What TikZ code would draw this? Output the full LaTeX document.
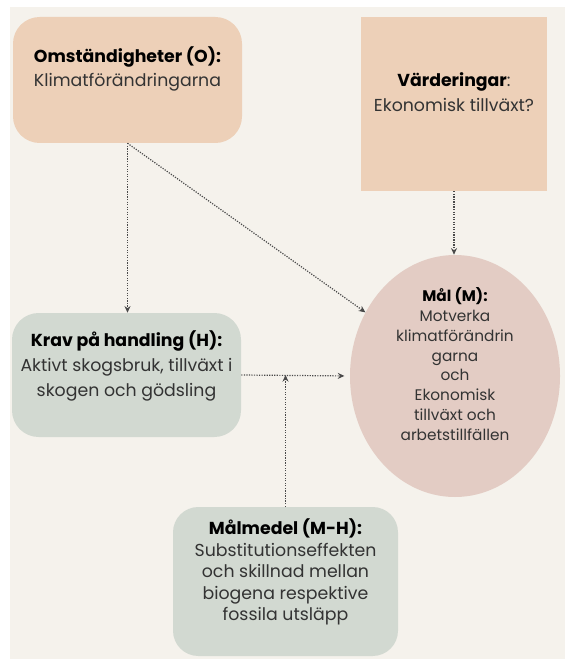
\documentclass[tikz,border=0pt]{standalone}
\usepackage{fontspec}
\setmainfont{Poppins}
\usepackage{xcolor}
\usetikzlibrary{shapes, arrows.meta, calc, positioning}

\definecolor{bgbeige}{HTML}{F5F2EC}
\definecolor{peach}{HTML}{EDD0B8}
\definecolor{sage}{HTML}{D2D9D1}
\definecolor{rose}{HTML}{E3CCC4}
\definecolor{inkgrey}{HTML}{333333}
\definecolor{dotgrey}{HTML}{4A4A4A}

\begin{document}
\begin{tikzpicture}[x=0.75pt, y=-0.75pt,
    every node/.style={align=center, text=inkgrey, inner sep=0pt},
    boxtxt/.style={font=\fontsize{13}{18.6}\selectfont},
    ovaltxt/.style={font=\fontsize{11.5}{14.8}\selectfont},
    meanstxt/.style={font=\fontsize{13}{16}\selectfont},
    softbox/.style={rectangle, rounded corners=20pt, draw=none},
    flow/.style={draw=dotgrey, densely dotted, line width=0.9pt, -{Stealth[length=5pt,width=4.5pt]}}]
    \useasboundingbox (0,0) rectangle (565,659);
    \fill[bgbeige] (10,7) rectangle (565,659);

    \node[softbox, fill=peach, minimum width=171.75pt, minimum height=94.5pt] (omst) at (127.5,80) {};
    \node[rectangle, fill=peach, minimum width=139.5pt, minimum height=130.5pt] (vard) at (454,104) {};
    \node[softbox, fill=sage, minimum width=171.75pt, minimum height=93pt] (krav) at (126.5,375) {};
    \node[softbox, fill=sage, rounded corners=19pt, minimum width=168.75pt, minimum height=111.75pt] (malmedel) at (285.5,581.5) {};
    \node[ellipse, fill=rose, minimum width=157.5pt, minimum height=181.5pt] (mal) at (455,376) {};

    \node[boxtxt] (omsttxt) at (127.5,69) {\textcolor{black}{\textbf{Omständigheter (O):}}\\Klimatförändringarna};
    \node[boxtxt] (vardtxt) at (454,92) {\textcolor{black}{\textbf{Värderingar}}:\\Ekonomisk tillväxt?};
    \node[boxtxt] (kravtxt) at (126.5,366) {\textcolor{black}{\textbf{Krav på handling (H):}}\\Aktivt skogsbruk, tillväxt i\\skogen och gödsling};
    \node[meanstxt] (malmedeltxt) at (285.5,572) {\textcolor{black}{\textbf{Målmedel (M-H):}}\\Substitutionseffekten\\och skillnad mellan\\biogena respektive\\fossila utsläpp};
    \node[ovaltxt] (maltxt) at (455,364) {\textcolor{black}{\textbf{Mål (M):}}\\Motverka\\klimatförändrin\\garna\\och\\Ekonomisk\\tillväxt och\\arbetstillfällen};

    \coordinate (junction) at (malmedel.north |- krav.east);
    \draw[flow] (omst.south) -- (omst.south |- krav.north);
    \draw[flow] (omst.south) -- (mal);
    \draw[flow] (vard.south) -- (vard.south |- mal.north);
    \draw[flow, shorten >=4pt] (krav.east) -- (mal.west);
    \draw[flow] (malmedel.north) -- (junction);
\end{tikzpicture}
\end{document}
